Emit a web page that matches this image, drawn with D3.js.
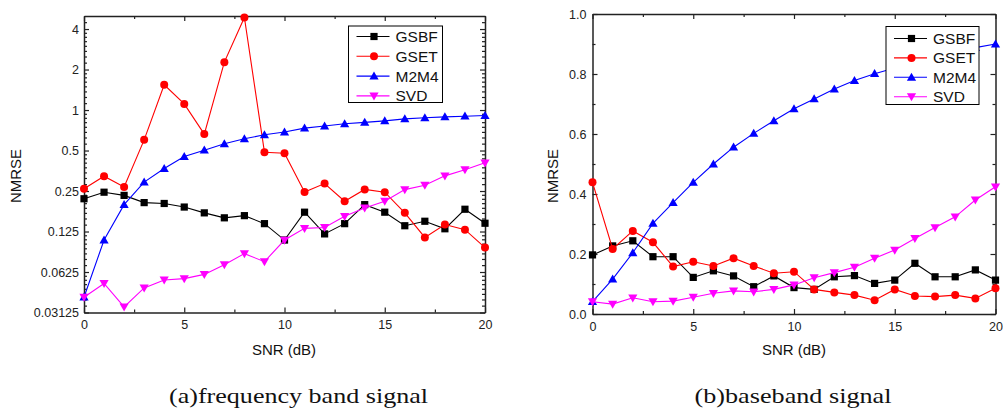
<!DOCTYPE html>
<html>
<head>
<meta charset="utf-8">
<script src="https://cdn.jsdelivr.net/npm/d3@7"></script>
<style>
  html, body { margin: 0; padding: 0; background: #fff; }
  svg { display: block; }
  .tick text { font-family: "Liberation Sans", Arial, sans-serif; font-size: 12.5px; fill: #222; }
</style>
</head>
<body>
<svg id="chart" width="1003" height="415"></svg>
<script>
// SNR steps shared by both panels
const snr = [0,1,2,3,4,5,6,7,8,9,10,11,12,13,14,15,16,17,18,19,20];
const seriesNames = ["GSBF", "GSET", "M2M4", "SVD"];

// (a) frequency band signal — NMRSE per SNR
const gsbfA = [0.219,0.245,0.232,0.205,0.202,0.190,0.172,0.158,0.164,0.143,0.108,0.174,0.120,0.143,0.198,0.174,0.138,0.149,0.131,0.183,0.144];
const gsetA = [0.260,0.322,0.268,0.600,1.54,1.11,0.662,2.27,4.87,0.486,0.477,0.246,0.284,0.210,0.257,0.245,0.172,0.113,0.141,0.129,0.095];
const m2m4A = [0.0406,0.108,0.198,0.291,0.367,0.451,0.503,0.561,0.611,0.655,0.686,0.734,0.760,0.790,0.810,0.830,0.860,0.876,0.890,0.900,0.910];
const svdA  = [0.0406,0.0514,0.0344,0.0476,0.0545,0.0558,0.0600,0.0708,0.0856,0.0746,0.108,0.132,0.134,0.162,0.187,0.210,0.256,0.276,0.324,0.360,0.405];

// (b) baseband signal — NMRSE per SNR
const gsbfB = [0.197,0.227,0.244,0.191,0.191,0.122,0.144,0.127,0.091,0.127,0.088,0.082,0.124,0.128,0.102,0.113,0.169,0.124,0.124,0.147,0.113];
const gsetB = [0.439,0.217,0.277,0.239,0.158,0.174,0.160,0.186,0.160,0.136,0.141,0.082,0.072,0.063,0.046,0.082,0.060,0.058,0.063,0.052,0.086];
const m2m4B = [0.041,0.116,0.204,0.302,0.371,0.439,0.500,0.556,0.602,0.644,0.684,0.717,0.750,0.778,0.801,0.820,0.840,0.858,0.875,0.888,0.900];
const svdB  = [0.041,0.033,0.054,0.041,0.043,0.056,0.069,0.077,0.074,0.082,0.097,0.121,0.138,0.156,0.186,0.213,0.252,0.288,0.324,0.380,0.424];

// Axis tick labels
const xTicks = [0, 5, 10, 15, 20];
const xMinor = [2.5, 7.5, 12.5, 17.5];
const yTicksA = [0.03125, 0.0625, 0.125, 0.25, 0.5, 1, 2, 4];
const yTickLabelsA = ["0.03125", "0.0625", "0.125", "0.25", "0.5", "1", "2", "4"];
const yTicksB = [0.0, 0.2, 0.4, 0.6, 0.8, 1.0];
const yMinorB = [0.1, 0.3, 0.5, 0.7, 0.9];

const captions = ["(a)frequency band signal", "(b)baseband signal"];

const colors = { GSBF: "#000000", GSET: "#ff0000", M2M4: "#0000ff", SVD: "#ff00ff" };
const symbols = { GSBF: "square", GSET: "circle", M2M4: "up", SVD: "down" };

const svg = d3.select("#chart");
const sans = "'Liberation Sans', Arial, sans-serif";

function marker(g, type, cx, cy, color) {
  if (type === "square") {
    g.append("rect").attr("x", cx - 3.6).attr("y", cy - 3.6).attr("width", 7.2).attr("height", 7.2).attr("fill", color);
  } else if (type === "circle") {
    g.append("circle").attr("cx", cx).attr("cy", cy).attr("r", 4).attr("fill", color);
  } else if (type === "up") {
    g.append("path").attr("d", `M${cx},${cy - 4.6}L${cx + 4.6},${cy + 3.4}L${cx - 4.6},${cy + 3.4}Z`).attr("fill", color);
  } else {
    g.append("path").attr("d", `M${cx},${cy + 4.6}L${cx + 4.6},${cy - 3.4}L${cx - 4.6},${cy - 3.4}Z`).attr("fill", color);
  }
}

function panel(cfg) {
  const { x, y, series, yTicks, yLabels, yMinor, legend, caption, titleX, captionX, captionW, labelPad } = cfg;
  const [x0, x1] = x.range();
  const [y0, y1] = y.range();
  const g = svg.append("g");

  const frame = (sel) => {
    sel.select(".domain").attr("stroke", "#222").attr("stroke-width", 1.5);
    sel.selectAll(".tick line").attr("stroke", "#222").attr("stroke-width", 1.2);
  };

  // bottom axis with labels, inward ticks
  g.append("g").attr("transform", `translate(0,${y0})`)
    .call(d3.axisBottom(x).tickValues(xTicks).tickSizeInner(-5).tickSizeOuter(0).tickPadding(8).tickFormat(d3.format("d")))
    .call(frame);
  g.append("g").attr("transform", `translate(0,${y0})`)
    .call(d3.axisBottom(x).tickValues(xMinor).tickSize(-3).tickFormat(""))
    .call(frame).call(s => s.select(".domain").remove());
  // top mirror axis
  g.append("g").attr("transform", `translate(0,${y1})`)
    .call(d3.axisTop(x).tickValues(xTicks).tickSizeInner(-5).tickSizeOuter(0).tickFormat(""))
    .call(frame);
  g.append("g").attr("transform", `translate(0,${y1})`)
    .call(d3.axisTop(x).tickValues(xMinor).tickSize(-3).tickFormat(""))
    .call(frame).call(s => s.select(".domain").remove());

  // left axis with labels
  g.append("g").attr("transform", `translate(${x0},0)`)
    .call(d3.axisLeft(y).tickValues(yTicks).tickSizeInner(-5).tickSizeOuter(0).tickPadding(labelPad)
      .tickFormat((d, i) => yLabels[i]))
    .call(frame);
  g.append("g").attr("transform", `translate(${x0},0)`)
    .call(d3.axisLeft(y).tickValues(yMinor).tickSize(-3).tickFormat(""))
    .call(frame).call(s => s.select(".domain").remove());
  // right mirror axis
  g.append("g").attr("transform", `translate(${x1},0)`)
    .call(d3.axisRight(y).tickValues(yTicks).tickSizeInner(-5).tickSizeOuter(0).tickFormat(""))
    .call(frame);
  g.append("g").attr("transform", `translate(${x1},0)`)
    .call(d3.axisRight(y).tickValues(yMinor).tickSize(-3).tickFormat(""))
    .call(frame).call(s => s.select(".domain").remove());

  // series lines and markers
  const line = d3.line().x((d, i) => x(snr[i])).y(d => y(d));
  series.forEach(s => {
    g.append("path").datum(s.values).attr("d", line)
      .attr("fill", "none").attr("stroke", colors[s.name]).attr("stroke-width", 1.1);
    const mg = g.append("g");
    s.values.forEach((v, i) => marker(mg, symbols[s.name], x(snr[i]), y(v), colors[s.name]));
  });

  // legend
  const lg = g.append("g");
  lg.append("rect").attr("x", legend.x).attr("y", legend.y).attr("width", legend.w).attr("height", legend.h)
    .attr("fill", "#fff").attr("stroke", "#000").attr("stroke-width", 1);
  seriesNames.forEach((name, i) => {
    const ry = legend.rowY + i * legend.rowStep;
    lg.append("line").attr("x1", legend.x + 8).attr("x2", legend.x + 41).attr("y1", ry).attr("y2", ry)
      .attr("stroke", colors[name]).attr("stroke-width", 1.1);
    marker(lg, symbols[name], legend.x + 25.5, ry, colors[name]);
    lg.append("text").attr("x", legend.x + 47).attr("y", ry).attr("dy", "0.36em")
      .attr("font-family", sans).attr("font-size", 15.5).attr("fill", "#111").text(name);
  });

  // axis titles
  g.append("text").attr("x", titleX).attr("y", 355).attr("text-anchor", "middle")
    .attr("font-family", sans).attr("font-size", 15).attr("fill", "#111").text("SNR (dB)");
  g.append("text").attr("transform", `translate(${cfg.yTitleX},176) rotate(-90)`).attr("text-anchor", "middle")
    .attr("dy", "0.36em").attr("font-family", sans).attr("font-size", 15).attr("fill", "#111").text("NMRSE");

  // caption (wide serif lettering)
  svg.append("text").attr("x", captionX - captionW / 2).attr("y", 403)
    .attr("textLength", captionW).attr("lengthAdjust", "spacingAndGlyphs")
    .attr("font-family", "'Liberation Serif', 'Times New Roman', serif").attr("font-size", 22)
    .attr("fill", "#111").text(caption);
}

// panel (a): log2 y scale
const xA = d3.scaleLinear().domain([0, 20]).range([84, 485]);
const yA = d3.scaleLog().base(2).domain([0.03125, 5]).range([312.5, 16]);
const minorA = [];
yTicksA.slice(0, -1).forEach(b => { for (let k = 1; k < 8; k++) minorA.push(b * (1 + k / 8)); });
[4.5].forEach(v => minorA.push(v));

panel({
  x: xA, y: yA,
  series: [
    { name: "GSBF", values: gsbfA }, { name: "GSET", values: gsetA },
    { name: "M2M4", values: m2m4A }, { name: "SVD", values: svdA }
  ],
  yTicks: yTicksA, yLabels: yTickLabelsA, yMinor: minorA, labelPad: 5,
  legend: { x: 348.5, y: 26, w: 94, h: 76.5, rowY: 36.5, rowStep: 19.8 },
  caption: captions[0], titleX: 284, yTitleX: 16, captionX: 298.5, captionW: 259
});

// panel (b): linear y scale
const xB = d3.scaleLinear().domain([0, 20]).range([592.5, 995.5]);
const yB = d3.scaleLinear().domain([0, 1]).range([314, 14]);

panel({
  x: xB, y: yB,
  series: [
    { name: "GSBF", values: gsbfB }, { name: "GSET", values: gsetB },
    { name: "M2M4", values: m2m4B }, { name: "SVD", values: svdB }
  ],
  yTicks: yTicksB, yLabels: yTicksB.map(d3.format(".1f")), yMinor: yMinorB, labelPad: 6,
  legend: { x: 886, y: 26.5, w: 93, h: 78, rowY: 38.5, rowStep: 19.4 },
  caption: captions[1], titleX: 794, yTitleX: 553, captionX: 793, captionW: 197
});
</script>
</body>
</html>
